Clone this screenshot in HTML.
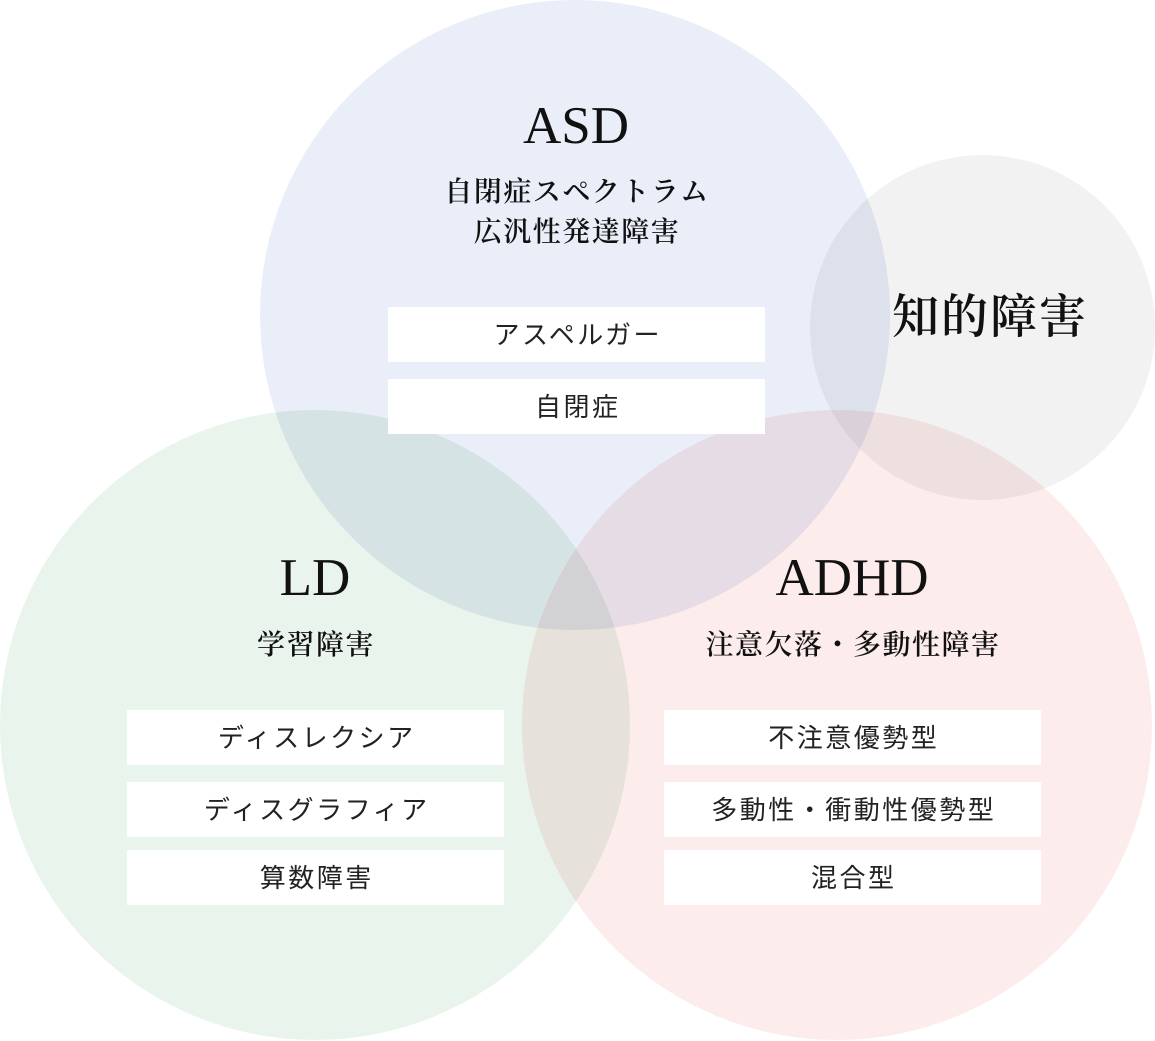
<!DOCTYPE html>
<html><head><meta charset="utf-8"><style>
body{margin:0;width:1155px;height:1041px;background:#fff;position:relative;overflow:hidden}
.c{position:absolute;border-radius:50%;mix-blend-mode:multiply}
.t{position:absolute;text-align:center;transform:translateX(-50%);white-space:nowrap;color:#111}
.en{font-family:"Liberation Serif",serif;font-size:53px;line-height:1}
.jp{font-family:"Liberation Serif","Noto Serif CJK SC",serif;font-size:28px;font-weight:600;line-height:40px;letter-spacing:1.5px}
.b{position:absolute;background:#fff;width:377px;height:55px;line-height:57px;text-align:center;font-family:"Liberation Sans","Noto Sans CJK JP",sans-serif;font-size:26px;color:#222;letter-spacing:2.5px;text-indent:2.5px}
</style></head><body>
<div class="c" style="left:260px;top:0;width:630px;height:630px;background:#e9eef8"></div>
<div class="c" style="left:0;top:410px;width:630px;height:630px;background:#e9f4ec"></div>
<div class="c" style="left:522px;top:410px;width:630px;height:630px;background:#fcecec"></div>
<div class="c" style="left:810px;top:155px;width:345px;height:345px;background:#f2f2f2"></div>

<div class="t en" style="left:576px;top:100px">ASD</div>
<div class="t jp" style="left:577px;top:173px">自閉症スペクトラム<br>広汎性発達障害</div>
<div class="b" style="left:388px;top:307px">アスペルガー</div>
<div class="b" style="left:388px;top:379px">自閉症</div>

<div class="t jp" style="left:990px;top:290px;font-size:47px;line-height:56px;letter-spacing:2px">知的障害</div>

<div class="t en" style="left:315px;top:552px">LD</div>
<div class="t jp" style="left:316px;top:626px">学習障害</div>
<div class="b" style="left:127px;top:710px">ディスレクシア</div>
<div class="b" style="left:127px;top:782px">ディスグラフィア</div>
<div class="b" style="left:127px;top:850px">算数障害</div>

<div class="t en" style="left:852px;top:552px">ADHD</div>
<div class="t jp" style="left:853px;top:626px">注意欠落・多動性障害</div>
<div class="b" style="left:664px;top:710px">不注意優勢型</div>
<div class="b" style="left:664px;top:782px">多動性・衝動性優勢型</div>
<div class="b" style="left:664px;top:850px">混合型</div>
</body></html>
